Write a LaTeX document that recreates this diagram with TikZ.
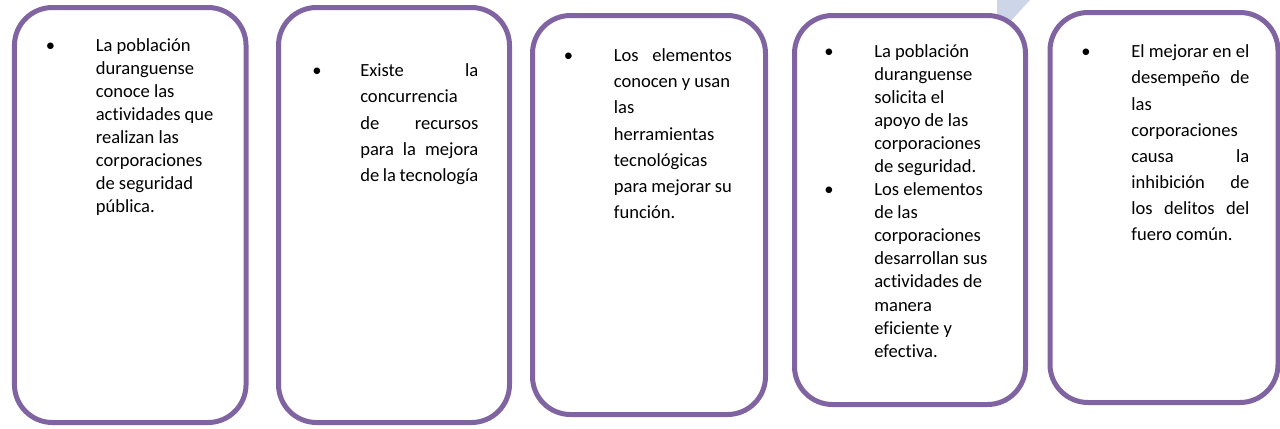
\documentclass[tikz,border=0pt]{standalone}
\usepackage{fontspec}
\setmainfont[Ligatures=NoCommon]{Carlito}
\usepackage{array}
\usepackage{tikz}
\usetikzlibrary{positioning, calc}
\definecolor{morado}{RGB}{128, 100, 162}
\definecolor{celeste}{RGB}{205, 213, 233}
\newcolumntype{L}[1]{>{\raggedright\arraybackslash}p{#1}}
\newcolumntype{J}[1]{>{\arraybackslash}p{#1}}

\begin{document}
\begin{tikzpicture}[
    caja/.style={draw=morado, line width=0.125cm, rounded corners=0.95cm, fill=white},
    texto/.style={inner sep=0pt, anchor=north west, font=\fontsize{13.2}{16.4}\selectfont},
    textoamplio/.style={inner sep=0pt, anchor=north west, font=\fontsize{13.2}{18.6}\selectfont}]
                \useasboundingbox (0,0) rectangle (32,-10.7);
                \fill[celeste] (24.925,0) -- (25.75,0) -- (25.2,-0.6) -- (24.925,-0.6) -- cycle;

                \node[caja, minimum width=5.79cm, minimum height=10.375cm] (c1) at (3.256,-5.375) {};
                \node[caja, minimum width=5.775cm, minimum height=10.375cm] (c2) at (9.85,-5.375) {};
                \node[caja, minimum width=5.825cm, minimum height=9.975cm] (c3) at (16.225,-5.375) {};
                \node[caja, minimum width=5.775cm, minimum height=9.725cm] (c4) at (22.75,-5.25) {};
                \node[caja, minimum width=5.7cm, minimum height=9.75cm] (c5) at (29.1,-5.1875) {};

                \node[texto, below right=0.75cm and 0.84cm of c1.north west] (t1) {%
                    \begin{tabular}{@{}p{1.25cm}@{}L{2.95cm}@{}}
                    \textbullet & La población\newline duranguense\newline conoce las\newline actividades que\newline realizan las\newline corporaciones\newline de seguridad\newline pública.
                    \end{tabular}};
                \node[textoamplio, below right=1.33cm and 0.90cm of c2.north west] (t2) {%
                    \begin{tabular}{@{}p{1.2cm}@{}J{2.95cm}@{}}
                    \textbullet & Existe\hfill la\newline concurrencia\newline de\hfill recursos\newline para\hfill la\hfill mejora\newline de la tecnología
                    \end{tabular}};
                \node[textoamplio, below right=0.75cm and 0.84cm of c3.north west] (t3) {%
                    \begin{tabular}{@{}p{1.25cm}@{}J{2.95cm}@{}}
                    \textbullet & Los\hfill elementos\newline conocen y usan\newline las\newline herramientas\newline tecnológicas\newline para mejorar su\newline función.
                    \end{tabular}};
                \node[texto, below right=0.70cm and 0.80cm of c4.north west] (t4) {%
                    \begin{tabular}{@{}p{1.25cm}@{}L{2.95cm}@{}}
                    \textbullet & La población\newline duranguense\newline solicita el\newline apoyo de las\newline corporaciones\newline de seguridad. \\
                    \textbullet & Los elementos\newline de las\newline corporaciones\newline desarrollan sus\newline actividades de\newline manera\newline eficiente y\newline efectiva.
                    \end{tabular}};
                \node[textoamplio, below right=0.73cm and 0.84cm of c5.north west] (t5) {%
                    \begin{tabular}{@{}p{1.25cm}@{}J{2.95cm}@{}}
                    \textbullet & El mejorar en el\newline desempeño\hfill de\newline las\newline corporaciones\newline causa\hfill la\newline inhibición\hfill de\newline los\hfill delitos\hfill del\newline fuero común.
                    \end{tabular}};
            \end{tikzpicture}
\end{document}
